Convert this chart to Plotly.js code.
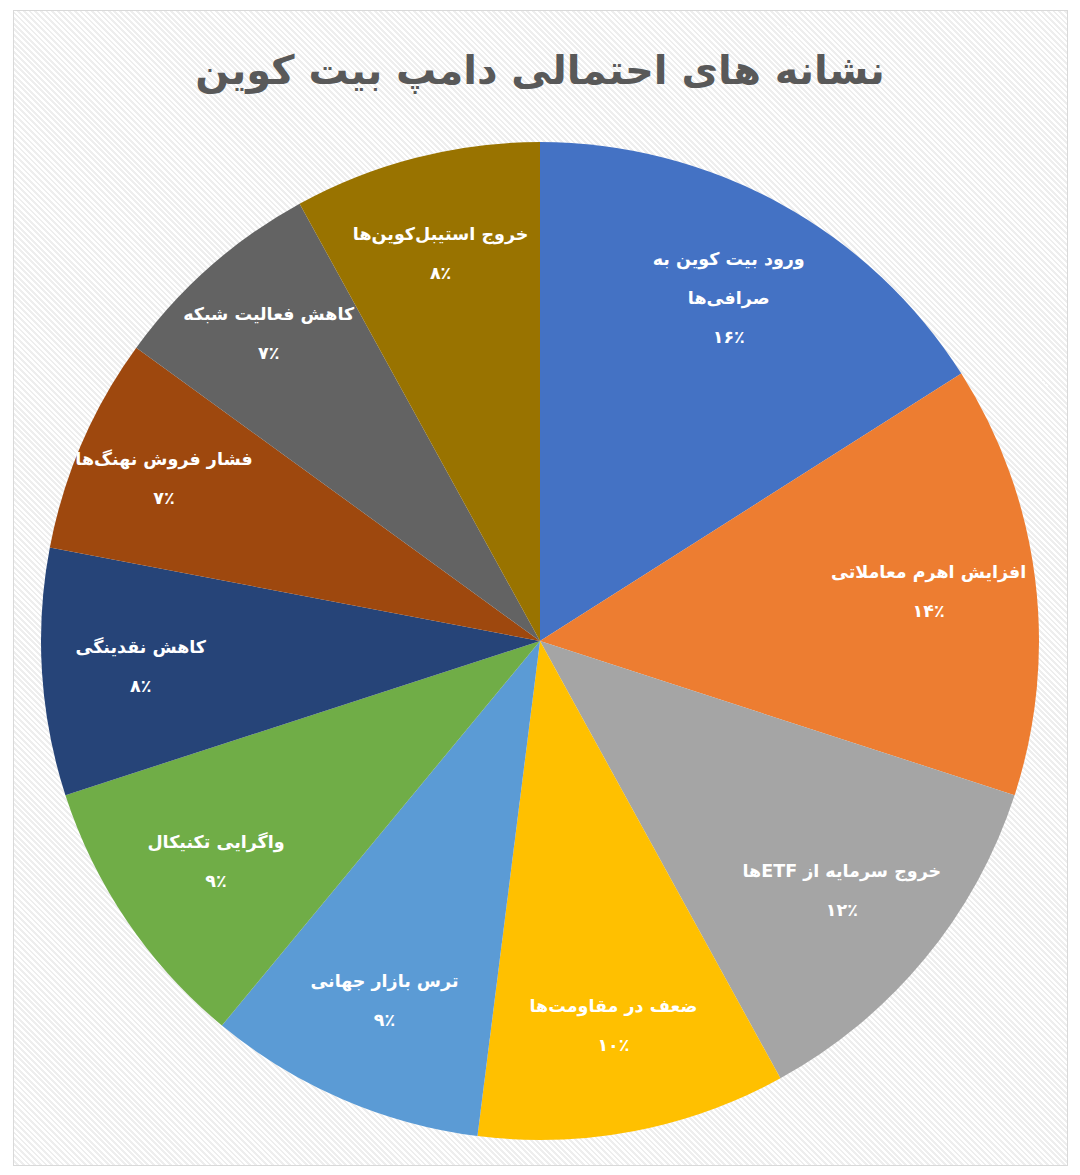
<!DOCTYPE html>
<html>
<head>
<meta charset="utf-8">
<script src="https://cdn.plot.ly/plotly-3.0.1.min.js"></script>
<style>
  html, body { margin: 0; padding: 0; background: #ffffff; }
  #frame {
    position: absolute; left: 13px; top: 10px; width: 1053px; height: 1154px;
    border: 1px solid #d9d9d9;
    background: repeating-linear-gradient(45deg, #ffffff 0px, #ffffff 2px, #eeeeee 2px, #eeeeee 4px);
  }
  #chart { position: absolute; left: 0; top: 0; width: 1080px; height: 1175px; }
</style>
</head>
<body>
<div id="frame"></div>
<div id="chart"></div>
<script>
const titleText = 'نشانه های احتمالی دامپ بیت کوین';
const categories = [
  'ورود بیت کوین به<br>صرافی‌ها',
  'افزایش اهرم معاملاتی',
  'خروج سرمایه از ETFها',
  'ضعف در مقاومت‌ها',
  'ترس بازار جهانی',
  'واگرایی تکنیکال',
  'کاهش نقدینگی',
  'فشار فروش نهنگ‌ها',
  'کاهش فعالیت شبکه',
  'خروج استیبل‌کوین‌ها'
];
const values = [16, 14, 12, 10, 9, 9, 8, 7, 7, 8];
const percentLabels = ['۱۶٪', '۱۴٪', '۱۲٪', '۱۰٪', '۹٪', '۹٪', '۸٪', '۷٪', '۷٪', '۸٪'];
const colors = ['#4472C4', '#ED7D31', '#A5A5A5', '#FFC000', '#5B9BD5', '#70AD47', '#264478', '#9E480E', '#636363', '#997300'];

const FONT = 'DejaVu Sans, Noto Sans, sans-serif';
const span = s => '<span style="font-size:17.5px"><b>' + s + '</b></span>';
const rtl = s => '\u202B' + s + '\u202C';
const sliceText = categories.map((c, i) =>
  c.split('<br>').map(l => span(rtl(l))).join('<br>') + '<br>' + span(percentLabels[i])
);

// solid pie (the slices)
const pieTrace = {
  type: 'pie',
  labels: categories,
  values: values,
  textinfo: 'none',
  sort: false,
  direction: 'clockwise',
  rotation: 0,
  marker: { colors: colors, line: { width: 0 } },
  hoverinfo: 'label+percent',
  showlegend: false
};

// transparent ring on top, used only to place the data labels near the outer edge
const labelTrace = {
  type: 'pie',
  labels: categories,
  values: values,
  text: sliceText,
  textinfo: 'text',
  textposition: 'inside',
  insidetextorientation: 'horizontal',
  hole: 0.57,
  sort: false,
  direction: 'clockwise',
  rotation: 0,
  marker: { colors: categories.map(() => 'rgba(0,0,0,0)'), line: { width: 0 } },
  textfont: { family: FONT, size: 30, color: '#ffffff' },
  hoverinfo: 'skip',
  showlegend: false
};

const layout = {
  width: 1080,
  height: 1175,
  paper_bgcolor: 'rgba(0,0,0,0)',
  plot_bgcolor: 'rgba(0,0,0,0)',
  margin: { l: 41, r: 41, t: 142, b: 35 },
  showlegend: false,
  uniformtext: { minsize: 30, mode: 'show' },
  title: {
    text: '<b>' + titleText + '</b>',
    font: { family: FONT, size: 40, color: '#595959' },
    x: 0.5, xanchor: 'center',
    y: 1 - 70 / 1175, yref: 'container', yanchor: 'middle'
  }
};

Plotly.newPlot('chart', [pieTrace, labelTrace], layout, { displayModeBar: false, staticPlot: true });
</script>
</body>
</html>
